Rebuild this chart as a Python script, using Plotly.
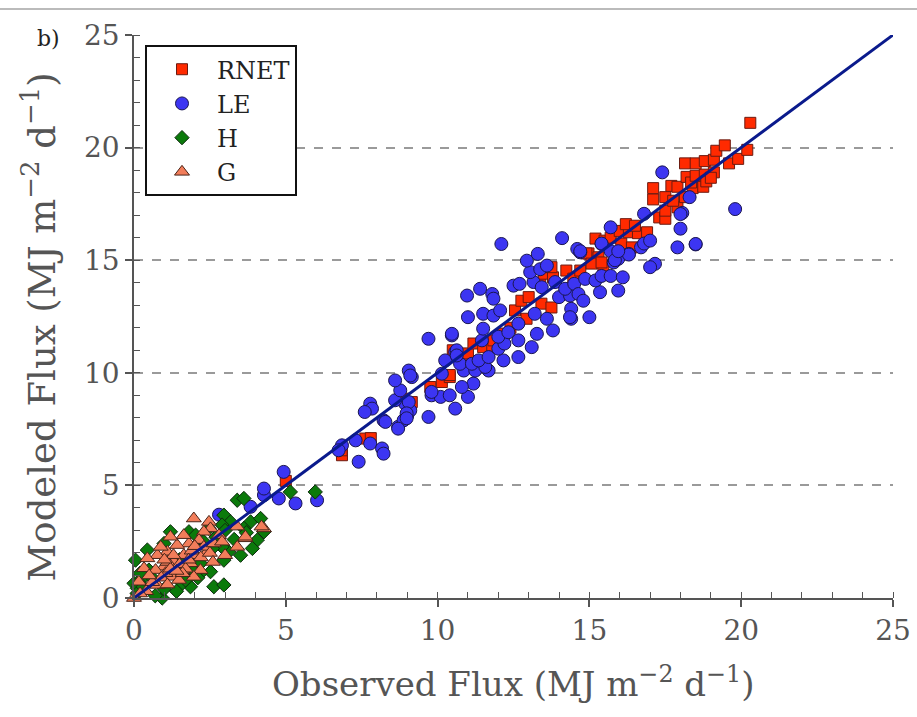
import plotly.graph_objects as go

# ---------------- data ----------------
rnet_x = [5.0, 6.85, 6.84, 7.62, 7.8, 8.88, 9.15, 9.76, 10.14, 10.4, 10.4, 10.5, 10.8, 11.0, 11.18, 11.5,
          11.8, 11.84, 12.17, 12.4, 12.93, 12.55, 12.76, 13.0, 13.42, 13.75, 13.38, 13.5, 13.8, 13.75,
          14.24, 14.47, 14.7, 14.97, 15.2, 15.46, 14.9, 15.3, 15.07, 15.4, 15.2, 15.5, 15.7, 16.05, 16.4,
          16.0, 16.3, 16.6, 16.9, 16.2, 16.5, 17.3, 17.5, 17.5, 17.9, 17.1, 17.5, 17.76, 18.15, 17.1, 17.7,
          17.9, 18.4, 18.75, 18.2, 18.35, 18.5, 18.8, 19.1, 18.85, 19.0, 18.15, 18.5, 18.8, 19.1, 19.6,
          19.9, 19.18, 19.46, 20.2, 20.3]
rnet_y = [5.2, 6.34, 6.56, 7.08, 7.1, 8.85, 8.7, 9.37, 9.59, 9.81, 9.9, 11.0, 10.7, 10.86, 11.3, 11.14,
          11.14, 11.44, 11.74, 12.0, 12.4, 12.77, 13.2, 13.36, 13.07, 12.9, 14.0, 14.4, 14.24, 14.69,
          14.54, 14.18, 14.54, 15.3, 14.9, 14.76, 15.3, 15.13, 14.85, 14.9, 15.96, 15.87, 16.0, 15.74, 15.57,
          16.3, 16.24, 16.2, 16.24, 16.6, 16.53, 16.9, 16.84, 17.2, 17.35, 17.7, 17.8, 17.64, 17.8, 18.2, 18.3,
          18.26, 18.2, 18.26, 18.7, 18.45, 18.75, 18.8, 18.9, 18.5, 18.66, 19.3, 19.3, 19.4, 19.46, 19.3,
          19.5, 19.86, 20.1, 19.9, 21.1]

le_x = [2.8, 3.84, 4.28, 4.77, 5.32, 4.93, 4.28, 6.03, 7.3, 7.78, 6.85, 6.74, 8.17, 8.22, 7.4,
        7.78, 7.84, 7.6, 8.22, 8.7, 8.88, 9.0, 9.1, 8.93, 9.7, 9.8, 10.1, 10.4, 10.58, 9.8, 8.6, 8.77,
        8.6, 9.05, 9.15, 9.1, 9.05, 8.28, 8.7, 8.98, 8.98, 11.0, 11.18, 10.8,
        9.7, 10.47, 10.47, 10.58, 10.63, 10.25, 10.14, 10.86, 11.24, 11.68, 11.57, 10.74, 11.13, 11.35,
        10.63, 11.68, 12.17, 12.66, 12.0, 12.2, 11.46, 12.66, 13.1, 12.0, 12.33, 11.5, 12.66, 13.27, 13.8,
        11.0, 11.5, 11.84, 12.06, 13.2, 13.6, 14.4, 14.4, 15.0, 14.36,
        10.97, 11.4, 11.8, 11.84, 12.5, 12.7, 13.16, 13.43, 13.87, 14.0, 14.36, 14.2, 14.5, 14.64, 14.8,
        15.35, 15.95, 14.86, 15.2, 15.4, 15.7, 16.1, 13.05, 13.38, 13.6, 12.94, 13.3, 12.1, 14.1, 14.6,
        14.7, 15.4, 15.7, 16.3, 15.95, 15.8, 15.7, 16.8, 16.7, 16.8, 17.0, 16.3, 17.16, 17.0, 15.84, 15.95,
        15.4, 14.7, 17.4, 18.3, 18.06, 19.8, 18.0, 17.9, 18.5, 18.0, 18.5]
le_y = [3.7, 4.05, 4.57, 4.42, 4.2, 5.6, 4.86, 4.34, 7.0, 6.86, 6.78, 6.56, 6.64, 6.41, 6.05,
        8.63, 8.41, 8.26, 7.89, 7.6, 7.89, 8.1, 8.33, 8.63, 8.04, 9.0, 8.93, 9.0, 8.41, 9.15, 8.78, 9.22,
        9.66, 10.1, 9.81, 9.88, 8.7, 7.82, 7.52, 8.2, 7.98, 8.93, 9.52, 9.37,
        11.51, 11.66, 11.73, 10.92, 11.0, 10.55, 9.96, 10.1, 10.1, 10.1, 10.26, 10.4, 10.4, 10.55,
        10.77, 10.7, 10.55, 10.7, 11.07, 11.3, 11.44, 11.44, 11.14, 11.6, 11.8, 11.96, 12.18, 11.73, 11.88,
        12.47, 12.62, 12.54, 12.77, 12.62, 12.4, 12.84, 12.4, 12.47, 12.47,
        13.43, 13.73, 13.5, 13.29, 13.87, 13.95, 14.03, 13.8, 14.03, 13.36, 13.43, 13.73, 13.95, 13.5, 13.2,
        13.58, 13.65, 14.17, 14.1, 14.3, 14.3, 14.24, 14.47, 14.6, 14.76, 14.98, 15.28, 15.72, 15.98, 15.5,
        15.35, 15.72, 15.4, 15.28, 15.06, 14.9, 16.46, 17.06, 15.57, 15.74, 15.87, 15.25, 14.84, 14.69, 15.0, 15.4,
        15.74, 15.4, 18.9, 17.8, 17.1, 17.27, 16.4, 15.57, 15.7, 17.05, 15.72]

h_x = [3.4, 3.62, 5.15, 5.97, 2.96, 3.18, 3.84, 4.17, 4.28, 4.06, 3.9, 3.62, 3.51, 3.12, 2.96, 2.9,
       2.52, 2.19, 2.63, 2.96, 1.86, 1.59, 0.93, 1.2, 1.81, 0.99, 0.44, 0.05, 0.0, 2.47, 2.9, 2.03,
       2.58, 1.92, 0.11, 2.19, 0.49, 0.27, 1.7, 0.1, 0.3, 0.6, 1.3, 1.5, 2.3, 3.3, 3.7, 1.0, 1.4, 0.7,
       2.1, 0.2, 3.0, 2.7]
h_y = [4.34, 4.42, 4.71, 4.71, 3.68, 3.38, 3.38, 3.53, 2.94, 2.57, 2.2, 3.09, 1.9, 2.05, 1.68, 2.27,
       1.17, 1.1, 0.5, 0.58, 0.5, 0.65, 0.0, 2.94, 2.94, 2.42, 2.13, 1.68, 0.65, 3.09, 3.24, 2.79,
       2.2, 1.24, 0.43, 1.54, 1.24, 0.87, 0.8, 0.2, 0.5, 0.9, 1.1, 1.7, 2.5, 2.6, 2.9, 0.4, 0.3, 0.1,
       0.9, 1.1, 3.0, 2.7]

g_x = [1.97, 2.47, 2.52, 2.3, 4.28, 4.2, 3.67, 3.67, 3.4, 3.4, 2.41, 2.14, 1.81, 1.42, 1.1, 0.77,
       0.44, 0.33, 0.16, 0.77, 1.26, 1.59, 1.86, 1.32, 0.99, 0.71, 1.64, 2.03, 2.3, 2.63, 2.8, 2.19,
       1.97, 1.48, 1.04, 0.0, 0.88, 1.2, 1.64, 1.1, 1.3, 1.5, 1.7, 1.9, 2.2, 1.2, 0.9, 1.6, 1.0, 1.4,
       1.8, 2.5, 2.0, 0.6, 0.4, 0.2, 1.1, 2.6, 3.0, 2.9, 0.5]
g_y = [3.53, 3.38, 3.09, 2.94, 3.09, 3.17, 2.65, 2.72, 2.27, 3.17, 2.05, 2.57, 2.42, 2.35, 2.05, 1.9,
       1.76, 1.32, 0.72, 0.58, 0.94, 1.24, 1.54, 1.61, 1.39, 1.24, 1.9, 1.9, 2.27, 2.42, 2.79, 1.24,
       0.94, 0.8, 1.1, 0.0, 2.27, 2.72, 2.79, 1.6, 1.9, 1.5, 1.3, 2.1, 1.8, 1.3, 0.9, 1.1, 1.7, 1.2,
       1.7, 2.0, 2.3, 0.7, 0.3, 0.2, 0.6, 1.6, 1.9, 2.5, 1.0]

line_x = [0, 25]
line_y = [0, 25]

series_names = ["RNET", "LE", "H", "G"]
y_ticks = [0, 5, 10, 15, 20, 25]
x_ticks = [0, 5, 10, 15, 20, 25]
x_title = "Observed Flux (MJ m<sup>−2</sup> d<sup>−1</sup>)"
y_title = "Modeled Flux (MJ m<sup>−2</sup> d<sup>−1</sup>)"

# ---------------- styling ----------------
FONT = "DejaVu Serif"
AX = "#555555"

fig = go.Figure()
fig.add_trace(go.Scatter(x=rnet_x, y=rnet_y, mode="markers", name=series_names[0], cliponaxis=False,
                         marker=dict(symbol="square", size=11, color="#ff2a00",
                                     line=dict(color="#6b1a10", width=1))))
fig.add_trace(go.Scatter(x=le_x, y=le_y, mode="markers", name=series_names[1], cliponaxis=False,
                         marker=dict(symbol="circle", size=13, color="#3c35f2",
                                     line=dict(color="#1a1650", width=1))))
fig.add_trace(go.Scatter(x=h_x, y=h_y, mode="markers", name=series_names[2], cliponaxis=False,
                         marker=dict(symbol="diamond", size=11, color="#0b7a0b",
                                     line=dict(color="#0d2a0d", width=1))))
fig.add_trace(go.Scatter(x=g_x, y=g_y, mode="markers", name=series_names[3], cliponaxis=False,
                         marker=dict(symbol="triangle-up", size=13, color="#f27d5a",
                                     line=dict(color="#4a2418", width=1))))
fig.add_trace(go.Scatter(x=line_x, y=line_y, mode="lines", showlegend=False, cliponaxis=False,
                         line=dict(color="#0a1a8c", width=3)))

axis_common = dict(range=[0, 25], showline=True, linecolor=AX, linewidth=1.5,
                   ticks="outside", ticklen=7, tickwidth=1.5, tickcolor=AX,
                   zeroline=False, ticklabeloverflow="allow", automargin=False,
                   tickfont=dict(family=FONT, size=28, color=AX),
                   minor=dict(ticks="inside", ticklen=6, tickwidth=1.2, tickcolor=AX, dtick=1, showgrid=False))

fig.update_layout(
    width=917, height=717,
    margin=dict(l=134, r=24, t=35, b=119),
    paper_bgcolor="white", plot_bgcolor="white",
    font=dict(family=FONT, color=AX),
    xaxis=dict(axis_common, tickvals=x_ticks, showgrid=False),
    yaxis=dict(axis_common, tickvals=y_ticks, showgrid=True, gridcolor="#9a9a9a", gridwidth=1.5,
               griddash="dash"),
    xaxis2=dict(overlaying="x", range=[0, 25], tickvals=x_ticks, ticks="inside", ticklen=7,
                tickwidth=1.5, tickcolor=AX, showticklabels=False, showgrid=False, zeroline=False,
                showline=False, automargin=False),
    yaxis2=dict(overlaying="y", range=[0, 25], tickvals=y_ticks, ticks="inside", ticklen=7,
                tickwidth=1.5, tickcolor=AX, showticklabels=False, showgrid=False, zeroline=False,
                showline=False, automargin=False),
    legend=dict(x=0.0145, y=0.982, xanchor="left", yanchor="top",
                bgcolor="rgba(255,255,255,1)", bordercolor="#111111", borderwidth=2,
                font=dict(family=FONT, size=24, color="#222222"), itemwidth=60),
    showlegend=True,
)

# axis titles as annotations for precise placement
fig.add_annotation(text=x_title, xref="paper", yref="paper", x=0.5, y=-0.150,
                   xanchor="center", yanchor="middle", showarrow=False,
                   font=dict(family=FONT, size=34, color=AX))
fig.add_annotation(text=y_title, xref="paper", yref="paper", x=-0.124, y=0.482, textangle=-90,
                   xanchor="center", yanchor="middle", showarrow=False,
                   font=dict(family=FONT, size=37, color=AX))

# page rule at top
fig.add_shape(type="line", xref="paper", yref="paper", x0=-0.2, x1=1.05, y0=1.046, y1=1.046,
              line=dict(color="#bbbbbb", width=2))
fig.add_annotation(text="b)", xref="paper", yref="paper", x=-0.113, y=0.993, xanchor="center",
                   yanchor="middle", showarrow=False,
                   font=dict(family=FONT, size=22, color="#222222"))

fig.write_html("out.html", config={"displayModeBar": False},
               post_script="document.body.style.margin='0';document.body.style.overflow='hidden';")
